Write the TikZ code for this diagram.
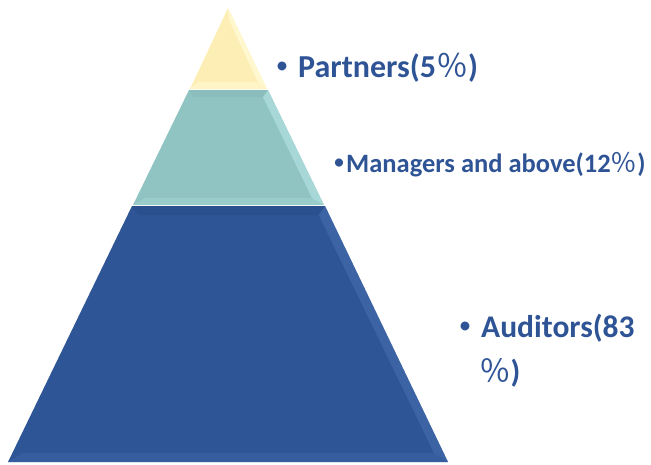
\documentclass[tikz,border=0pt]{standalone}
\usepackage{fontspec}
\setmainfont{Carlito}
\newfontfamily\cjk{Noto Sans CJK SC}
\definecolor{txtblue}{HTML}{2F5496}
\definecolor{topfill}{HTML}{FDEEB6}
\definecolor{topbevel}{HTML}{FFF8CF}
\definecolor{midfill}{HTML}{8FC4C3}
\definecolor{midbevel}{HTML}{B4E0E0}
\definecolor{botfill}{HTML}{2E5595}
\definecolor{botbevel}{HTML}{4A72B3}
\tikzset{
  label/.style={font=\bfseries, text=txtblue, anchor=base west, inner sep=0pt},
  dot/.style={text=txtblue, anchor=center, inner sep=0pt},
}
\begin{document}
\begin{tikzpicture}[x=1pt,y=-1pt]
\useasboundingbox (0,0) rectangle (651,464);

% bottom tier
\fill[botfill] (132,206) -- (325,206) -- (448,462) -- (8,462) -- cycle;
\fill[botbevel, opacity=0.5] (325,206) -- (448,462) -- (434,453) -- (318.7,215) -- cycle;
\fill[botbevel, opacity=0.3] (8,462) -- (448,462) -- (434,453) -- (22,453) -- cycle;
\fill[black, opacity=0.05] (132,206) -- (325,206) -- (318.7,215) -- (138.3,215) -- cycle;

% middle tier
\fill[midfill] (189,90) -- (268,90) -- (324,205) -- (133,205) -- cycle;
\fill[midbevel, opacity=0.7] (268,90) -- (324,205) -- (312,198) -- (263,97) -- cycle;
\fill[midbevel, opacity=0.3] (133,205) -- (324,205) -- (312,198) -- (145,198) -- cycle;
\fill[black, opacity=0.03] (189,90) -- (268,90) -- (263,97) -- (194,97) -- cycle;

% top tier
\fill[topfill] (228,8) -- (267,89) -- (190,89) -- cycle;
\fill[topbevel] (228,8) -- (267,89) -- (258,82) -- (229,20) -- cycle;
\fill[topbevel, opacity=0.6] (190,89) -- (267,89) -- (258,82) -- (198,82) -- cycle;

% labels
\node[dot, font=\fontsize{25}{28}\selectfont] (b1) at (282,68) {•};
\node[label, font=\bfseries\fontsize{32}{38}\selectfont] (partners) at (298,77) {Partners(5{\cjk\mdseries ％})};

\node[dot, font=\fontsize{23}{26}\selectfont] (b2) at (339,164) {•};
\node[label, font=\bfseries\fontsize{26.5}{32}\selectfont] (managers) at (346,172) {Managers and above(12{\cjk\mdseries ％})};

\node[dot, font=\fontsize{25}{28}\selectfont] (b3) at (465,328) {•};
\node[label, font=\bfseries\fontsize{31.5}{38}\selectfont] (auditors) at (481,337) {Auditors(83};
\node[label, font=\bfseries\fontsize{31.5}{38}\selectfont] (auditors2) at (479,382) {{\cjk\mdseries ％})};
\end{tikzpicture}
\end{document}
